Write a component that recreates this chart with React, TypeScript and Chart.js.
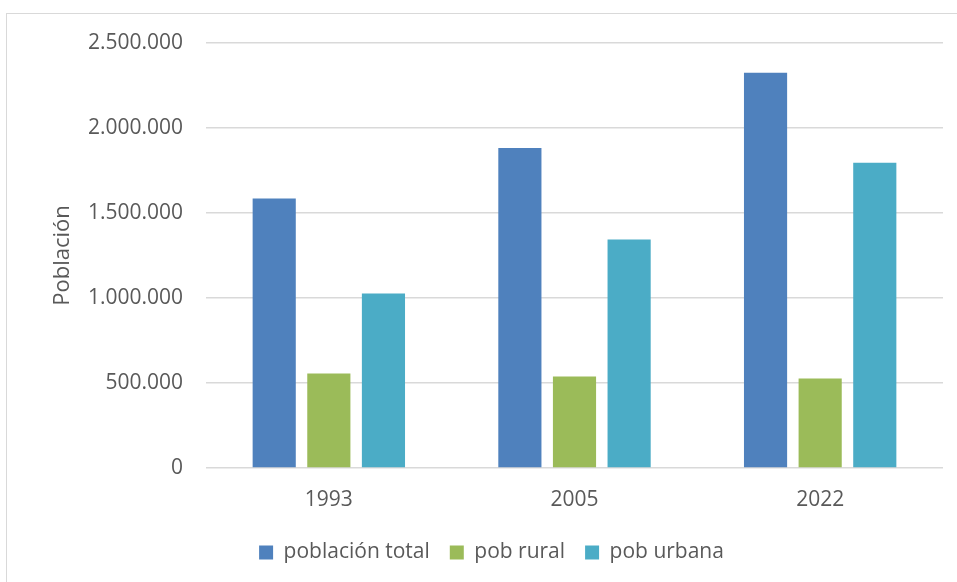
import React, { useEffect, useRef } from "react";
import { Chart, registerables } from "chart.js";

Chart.register(...registerables);

const categories = ["1993", "2005", "2022"];
const seriesNames = ["población total", "pob rural", "pob urbana"];
const poblacionTotal = [1586000, 1882000, 2325000];
const pobRural = [556000, 538000, 527000];
const pobUrbana = [1027000, 1344000, 1796000];
const colors = ["#4F81BD", "#9BBB59", "#4BACC6"];
const yTitle = "Población";

const fmt = (v: number) => {
  const s = Math.round(v).toString();
  return s.replace(/\B(?=(\d{3})+(?!\d))/g, ".");
};

export default function App() {
  const ref = useRef<HTMLCanvasElement | null>(null);
  useEffect(() => {
    if (!ref.current) return;
    const font = "'Open Sans', sans-serif";
    const chart = new Chart(ref.current, {
      type: "bar",
      data: {
        labels: categories,
        datasets: [poblacionTotal, pobRural, pobUrbana].map((d, i) => ({
          label: seriesNames[i],
          data: d,
          backgroundColor: colors[i],
          borderWidth: 0,
          categoryPercentage: 0.667,
          barPercentage: 0.79,
        })),
      },
      options: {
        animation: false,
        responsive: false,
        maintainAspectRatio: false,
        layout: { padding: { left: 40, right: 14, top: 43, bottom: 9 } },
        plugins: {
          tooltip: { enabled: false },
          legend: {
            position: "bottom",
            labels: {
              boxWidth: 14,
              boxHeight: 14,
              color: "#595959",
              padding: 20,
              font: { family: font, size: 21 },
            },
          },
        },
        scales: {
          x: {
            grid: { display: false },
            border: { display: false },
            afterFit: (scale: any) => {
              scale.height = 54;
            },
            ticks: { color: "#595959", padding: 11, font: { family: font, size: 21 } },
          },
          y: {
            min: 0,
            max: 2500000,
            afterFit: (scale: any) => {
              scale.width = 166;
            },
            ticks: {
              stepSize: 500000,
              color: "#595959",
              padding: 23,
              font: { family: font, size: 21 },
              callback: (v: any) => fmt(Number(v)),
            },
            grid: { color: "#d9d9d9", lineWidth: 1.5, drawTicks: false },
            border: { display: false },
            title: {
              display: true,
              text: yTitle,
              color: "#595959",
              font: { family: font, size: 22 },
              padding: { top: 10, bottom: 0 },
            },
          },
        },
      },
    });
    return () => chart.destroy();
  }, []);
  return (
    <div style={{ position: "fixed", left: 0, top: 0, width: 957, height: 582, overflow: "hidden", background: "#fff" }}>
      <div style={{ position: "absolute", left: 6, top: 13, width: 1000, height: 1000, border: "1px solid #d9d9d9" }} />
      <canvas ref={ref} width={957} height={582} style={{ position: "absolute", left: 0, top: 0 }} />
    </div>
  );
}
